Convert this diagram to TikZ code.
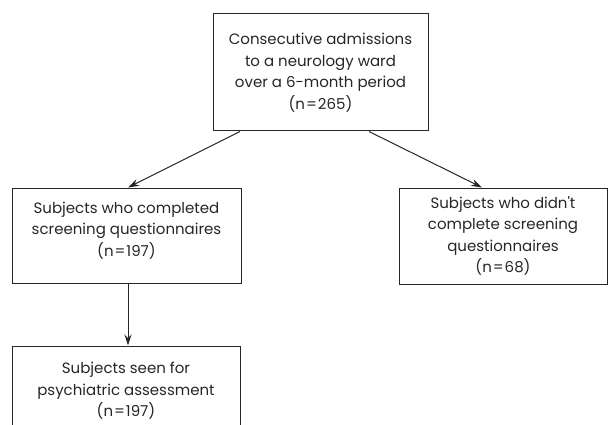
\documentclass[tikz,border=0pt]{standalone}
\usepackage{fontspec}
\setmainfont{Poppins}
\usepackage{tikz}
\usetikzlibrary{arrows.meta, positioning}

\begin{document}
\begin{tikzpicture}[
  x=1pt, y=-1pt,
  >={Stealth[length=11pt, width=7pt]},
  flowbox/.style={rectangle, draw=black!85, line width=1pt, align=center, inner sep=0pt, text=black!85, font=\fontsize{15}{21.5}\selectfont},
  flowarrow/.style={->, draw=black!85, line width=1pt},
]
  \useasboundingbox (0,0) rectangle (610,425);

  \node[flowbox, minimum width=215, minimum height=117] (adm) at (320.5,72.5)
    {Consecutive admissions\\ to a neurology ward\\ over a 6-month period\\ (n\kern1pt=\kern1pt265)};
  \node[flowbox, minimum width=229, minimum height=95] (done) at (126.5,235.5)
    {Subjects who completed\\ screening questionnaires\\ (n\kern1pt=\kern1pt197)\\[-9pt]};
  \node[flowbox, minimum width=208, minimum height=96] (notdone) at (503,236)
    {Subjects who didn\textquotesingle t\\ complete screening\\ questionnaires\\ (n\kern1pt=\kern1pt68)};
  \node[flowbox, minimum width=228, minimum height=90] (psych) at (126,391)
    {Subjects seen for\\ psychiatric assessment\\ (n\kern1pt=\kern1pt197)};

  \draw[flowarrow] ([xshift=-80.5]adm.south) -- ([xshift=1.5]done.north);
  \draw[flowarrow] ([xshift=48.5]adm.south) -- ([xshift=-21]notdone.north);
  \draw[flowarrow] ([xshift=1.5]done.south) -- ([xshift=2]psych.north);
\end{tikzpicture}
\end{document}
